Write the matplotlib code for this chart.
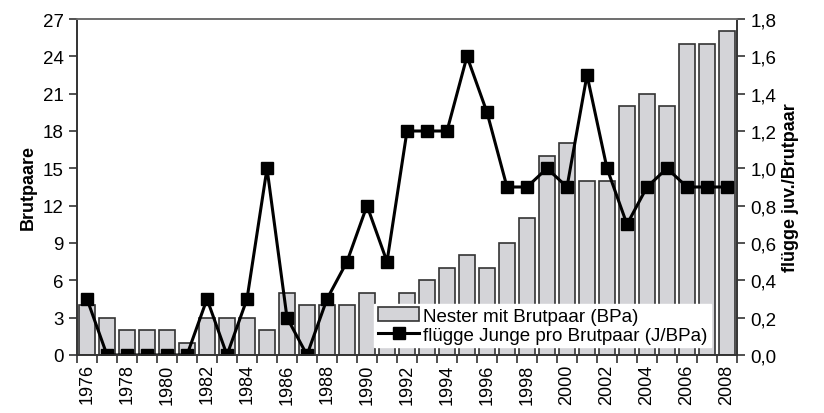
import numpy as np
import matplotlib.pyplot as plt
from matplotlib.ticker import FuncFormatter

years = list(range(1976, 2009))
nester = [4, 3, 2, 2, 2, 1, 3, 3, 3, 2, 5, 4, 4, 4, 5, 4, 5, 6, 7, 8, 7, 9, 11,
          16, 17, 14, 14, 20, 21, 20, 25, 25, 26]
junge = [0.3, 0, 0, 0, 0, 0, 0.3, 0, 0.3, 1.0, 0.2, 0, 0.3, 0.5, 0.8, 0.5, 1.2,
         1.2, 1.2, 1.6, 1.3, 0.9, 0.9, 1.0, 0.9, 1.5, 1.0, 0.7, 0.9, 1.0, 0.9, 0.9, 0.9]

plt.rcParams['font.family'] = ['Liberation Sans', 'DejaVu Sans']

fig = plt.figure(figsize=(8.24, 4.14), dpi=100)
ax = fig.add_axes([77 / 824, 1 - 356 / 414, (737 - 77) / 824, (356 - 20) / 414])
ax2 = ax.twinx()

x = np.array(years)
bars = ax.bar(x, nester, width=0.8, color='#d4d4d8', edgecolor='#333333',
              linewidth=1.2, label='Nester mit Brutpaar (BPa)')
line, = ax2.plot(x, junge, color='black', linewidth=2.2, marker='s',
                 markersize=8, label='flügge Junge pro Brutpaar (J/BPa)')

ax.set_xlim(1975.5, 2008.5)
ax.set_ylim(0, 27)
ax.set_yticks(range(0, 28, 3))
ax2.set_ylim(0, 1.8)
ax2.set_yticks(np.arange(0, 1.81, 0.2))
ax2.yaxis.set_major_formatter(FuncFormatter(lambda v, p: f'{v:.1f}'.replace('.', ',')))

ax.set_xticks(np.arange(1975.5, 2009, 1))
ax.set_xticklabels([])
ax.set_xticks(years[::2], minor=True)
ax.set_xticklabels([str(y) for y in years[::2]], minor=True, rotation=90, fontsize=13)
ax.tick_params(axis='x', which='minor', length=0, pad=6)
ax.tick_params(axis='x', which='major', length=6, width=1.2, color='#333333')

ax.tick_params(axis='y', labelsize=13.5, length=6, width=1.2, color='#333333')
ax2.tick_params(axis='y', labelsize=13.5, length=6, width=1.2, color='#333333')

for a in (ax, ax2):
    for s in a.spines.values():
        s.set_color('#333333')
        s.set_linewidth(1.2)
ax2.spines['top'].set_color('#777777')

ax.set_ylabel('Brutpaare', fontsize=13, fontweight='bold')
ax2.set_ylabel('flügge juv./Brutpaar', fontsize=13, fontweight='bold')

ax2.legend([bars, line], [bars.get_label(), line.get_label()],
           loc='lower right', bbox_to_anchor=(0.975, -0.005), fontsize=13.5,
           frameon=True, fancybox=False, edgecolor='white', framealpha=1,
           handlelength=2.2, handletextpad=0.2, borderpad=0.2, labelspacing=0.1)

fig.savefig('out.png', dpi=100)
